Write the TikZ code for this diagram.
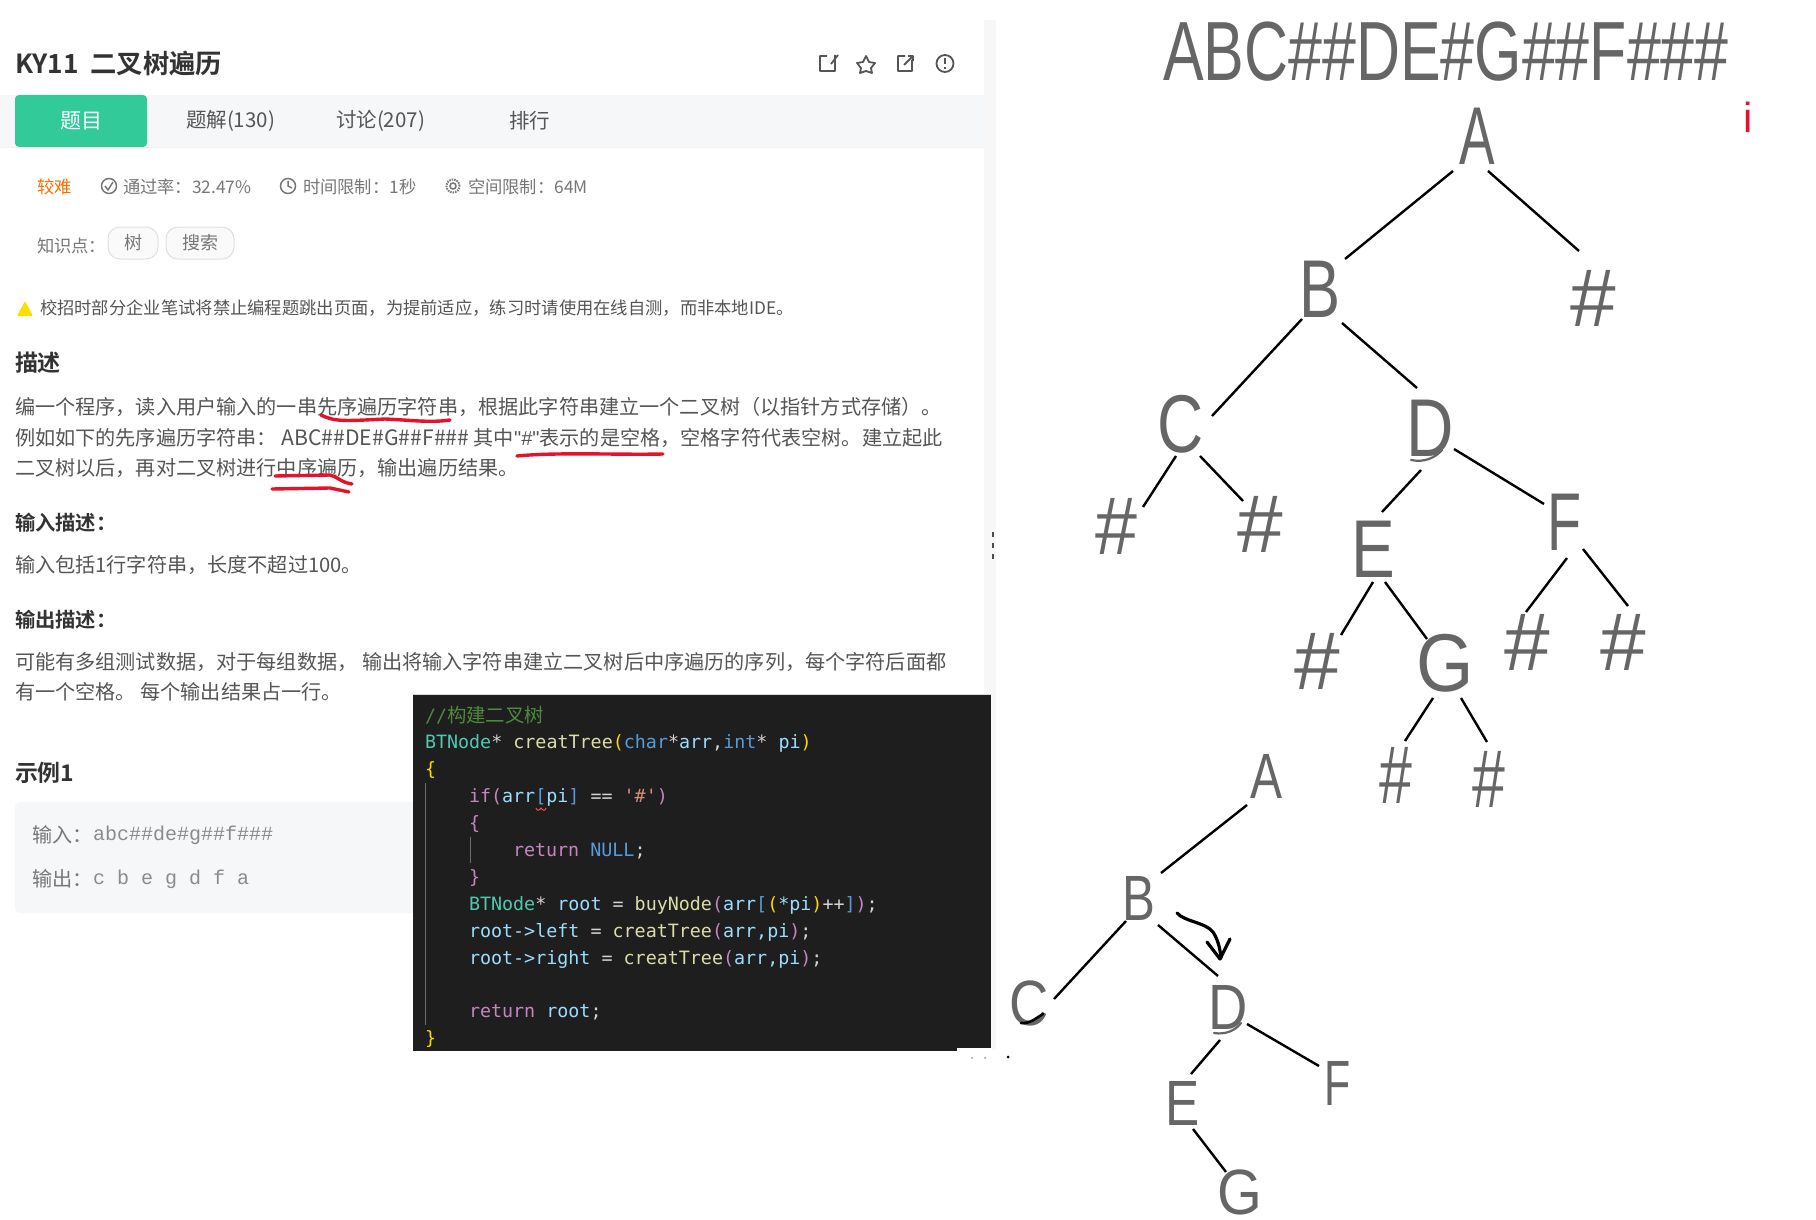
\documentclass[tikz,border=0pt]{standalone}
\usepackage{graphicx}
\usepackage{fontspec}
\usetikzlibrary{calc}
\setmainfont{Liberation Sans}
\setmonofont{DejaVu Sans Mono}
\newfontfamily\cjk{Noto Sans CJK SC}
\newfontfamily\cjkb{Noto Sans CJK SC Bold}
\newfontfamily\lsans{Liberation Sans}
\newfontfamily\lmono{Liberation Mono}
\definecolor{txtgray}{HTML}{555555}
\definecolor{hdark}{HTML}{333333}
\definecolor{lite}{HTML}{777777}
\definecolor{mint}{HTML}{32CA99}
\definecolor{tabbg}{HTML}{F6F7F9}
\definecolor{codebg}{HTML}{1E1E1E}
\definecolor{cgreen}{HTML}{4E8A3E}
\definecolor{cteal}{HTML}{4EC9B0}
\definecolor{cyell}{HTML}{DCDCAA}
\definecolor{cblue}{HTML}{569CD6}
\definecolor{clite}{HTML}{9CDCFE}
\definecolor{cpink}{HTML}{C586C0}
\definecolor{cgold}{HTML}{FFD700}
\definecolor{cstr}{HTML}{CE9178}
\definecolor{cwht}{HTML}{D4D4D4}
\definecolor{treeg}{HTML}{666666}
\definecolor{penred}{HTML}{E5122A}
\tikzset{
 t/.style={anchor=west,inner sep=0,outer sep=0,text=txtgray,font=\cjk\fontsize{20.15}{24}\selectfont},
 h/.style={anchor=west,inner sep=0,outer sep=0,text=hdark,font=\cjkb\fontsize{23}{27}\selectfont},
 m/.style={anchor=west,inner sep=0,outer sep=0,text=lite,font=\cjk\fontsize{17.3}{20}\selectfont},
 code/.style={anchor=west,inner sep=0,outer sep=0,font=\ttfamily\fontsize{18.35}{24}\selectfont},
 big/.style={inner sep=0,outer sep=0,text=treeg,font=\lsans\fontsize{82}{90}\selectfont},
 sml/.style={inner sep=0,outer sep=0,text=treeg,font=\lsans\fontsize{64}{70}\selectfont},
 edge/.style={draw=black,line width=2.4pt},
 pen/.style={draw=penred,line width=3.4pt,line cap=round,line join=round},
 ic/.style={draw=txtgray,line width=1.8pt,line join=round},
 ics/.style={draw=lite,line width=1.5pt},
 retouch/.style={draw=treeg,line width=2.2pt,line cap=round},
 pill/.style={draw=black!12,fill=black!2,rounded corners=12pt,line width=1pt,minimum height=32pt,inner sep=0,text=lite,font=\cjk\fontsize{18}{20}\selectfont},
}
\newcommand{\cc}[2]{\textcolor{#1}{#2}}
\newcommand{\nar}[2]{\scalebox{#1}[1]{#2}}
\begin{document}
\begin{tikzpicture}[x=1pt,y=-1pt]
\useasboundingbox (0,0) rectangle (1816,1220);
\fill[white] (0,0) rectangle (1816,1220);
% panel divider
\fill[black!3] (984,20) rectangle (996,1050);
\foreach \yy in {532,543,554}{\fill[black!70] (992,\yy) rectangle (994,\yy+5);}
% header
\node[h,font=\cjkb\fontsize{26.3}{30}\selectfont] (title) at (15,64) {KY11\ \ 二叉树遍历};
\draw[ic] (835,55) -- (835,71) -- (820,71) -- (820,56) -- (827,56) (831,64) -- (838,55);
\draw[ic] (866,56) -- (869,62) -- (875,63) -- (871,68) -- (872,73) -- (866,71) -- (860,73) -- (861,68) -- (857,63) -- (863,62) -- cycle;
\draw[ic] (912,60) -- (912,71) -- (898,71) -- (898,56) -- (905,56) (904,65) -- (913,56) (908,56) -- (913,56) -- (913,61);
\draw[ic] (945,63.5) circle (8.5pt);
\draw[ic] (945,58) -- (945,64) (945,67) -- (945,69);
% tabs
\fill[tabbg] (0,95) rectangle (984,147);
\draw[black!5,line width=1pt] (0,147.5) -- (984,147.5);
\node[fill=mint,rounded corners=4pt,minimum width=132pt,minimum height=52pt,inner sep=0,text=white,font=\cjk\fontsize{21}{25}\selectfont] (tab1) at (81,121) {题目};
\node[t,font=\cjk\fontsize{20.5}{24}\selectfont] (tab2) at (186,121) {题解(130)};
\node[t,font=\cjk\fontsize{20.5}{24}\selectfont] (tab3) at (336,121) {讨论(207)};
\node[t,font=\cjk\fontsize{20.5}{24}\selectfont] (tab4) at (509,121) {排行};
% meta
\node[m,text=orange!85!red] (hard) at (37,187) {较难};
\draw[ics] (109,186) circle (7.5pt); \draw[ics] (105,186) -- (108,190) -- (113,182);
\node[m] (rate) at (123,187) {通过率：32.47\%};
\draw[ics] (288,186) circle (7.5pt); \draw[ics] (288,181) -- (288,186) -- (292,188);
\node[m] (time) at (303,187) {时间限制：1秒};
\draw[ics,densely dotted,line width=2pt] (453,186) circle (6.5pt); \draw[ics] (453,186) circle (3pt);
\node[m] (space) at (468,187) {空间限制：64M};
\node[m] (kp) at (37,246) {知识点：};
\node[pill,minimum width=50pt] (p1) at (133,243) {树};
\node[pill,minimum width=68pt] (p2) at (200,243) {搜索};
% warning
\fill[yellow!80!orange,rounded corners=1pt] (17,316) -- (25,301) -- (33,316) -- cycle;
\node[m,font=\cjk\fontsize{17.3}{22}\selectfont,text=txtgray] (warn) at (40,308) {校招时部分企业笔试将禁止编程题跳出页面，为提前适应，练习时请使用在线自测，而非本地IDE。};
% description
\node[h] (d1) at (15,363) {描述};
\node[t] (l1) at (15,407) {编一个程序，读入用户输入的一串先序遍历字符串，根据此字符串建立一个二叉树（以指针方式存储）。};
\node[t] (l2) at (15,438) {例如如下的先序遍历字符串： {\fontsize{21.2}{24}\selectfont ABC\#\#DE\#G\#\#F\#\#\#} 其中{\lsans "\#"}表示的是空格，空格字符代表空树。建立起此};
\node[t] (l3) at (15,468) {二叉树以后，再对二叉树进行中序遍历，输出遍历结果。};
\node[h,font=\cjkb\fontsize{20.3}{24}\selectfont] (i1) at (15,523) {输入描述：};
\node[t] (i2) at (15,565) {输入包括1行字符串，长度不超过100。};
\node[h,font=\cjkb\fontsize{20.3}{24}\selectfont] (o1) at (15,620) {输出描述：};
\node[t] (o2) at (15,662) {可能有多组测试数据，对于每组数据， 输出将输入字符串建立二叉树后中序遍历的序列，每个字符后面都};
\node[t] (o3) at (15,692) {有一个空格。 每个输出结果占一行。};
% pen marks
\draw[pen] (321,415) .. controls (335,422) and (345,421) .. (385,419) .. controls (410,420) and (430,423) .. (450,420);
\draw[pen] (517,456) .. controls (558,452) and (618,455) .. (663,454);
\draw[pen] (275,476) -- (330,475) .. controls (340,478) and (340,482) .. (352,484);
\draw[pen] (272,489) -- (330,488) -- (349,492);
% example
\node[h,font=\cjkb\fontsize{22.9}{27}\selectfont] (ex) at (15,773) {示例1};
\fill[tabbg,rounded corners=5pt] (15,802) rectangle (420,913);
\node[t,text=lite] (ein) at (32,835) {输入：};
\node[anchor=west,inner sep=0,text=lite!85,font=\lmono\fontsize{20}{24}\selectfont] (einv) at (93,835) {abc\#\#de\#g\#\#f\#\#\#};
\node[t,text=lite] (eout) at (32,879) {输出：};
\node[anchor=west,inner sep=0,text=lite!85,font=\lmono\fontsize{20}{24}\selectfont] (eoutv) at (93,879) {c b e g d f a};
% code panel
\fill[codebg] (413,695) rectangle (991,1051);
\draw[black!15,line width=1pt] (413,694.5) -- (991,694.5);
\fill[white] (957,1048) rectangle (992,1052);
\fill[black!40] (972,1058) circle (1pt) (985,1058) circle (1pt);
\fill[black] (1008,1057) circle (1.5pt);
\draw[white!35!codebg,line width=1pt] (425,783) -- (425,1025);
\draw[white!35!codebg,line width=1pt] (470,837) -- (470,863);
\node[code,text=cgreen] (c0) at (425,715) {//{\cjk\fontsize{19.4}{24}\selectfont 构建二叉树}};
\node[code] (c1) at (425,743) {\cc{cteal}{BTNode}\cc{cwht}{*} \cc{cyell}{creatTree}\cc{cgold}{(}\cc{cblue}{char}\cc{cwht}{*}\cc{clite}{arr}\cc{cwht}{,}\cc{cblue}{int}\cc{cwht}{*} \cc{clite}{pi}\cc{cgold}{)}};
\node[code,text=cgold] (c2) at (425,770) {\{};
\node[code] (c3) at (469,797) {\cc{cpink}{if(}\cc{clite}{arr}\cc{cblue}{[}\cc{clite}{pi}\cc{cblue}{]} \cc{cwht}{==} \cc{cstr}{'\#'}\cc{cpink}{)}};
\draw[red!70,line width=1pt] (536,808) .. controls (537,811) and (539,811) .. (541,808) .. controls (543,811) and (545,811) .. (546,808);
\node[code,text=cpink] (c4) at (469,824) {\{};
\node[code] (c5) at (513,851) {\cc{cpink}{return} \cc{cblue}{NULL}\cc{cwht}{;}};
\node[code,text=cpink] (c6) at (469,878) {\}};
\node[code] (c7) at (469,905) {\cc{cteal}{BTNode}\cc{cwht}{*} \cc{clite}{root} \cc{cwht}{=} \cc{cyell}{buyNode}\cc{cpink}{(}\cc{clite}{arr}\cc{cblue}{[}\cc{cgold}{(}\cc{clite}{*pi}\cc{cgold}{)}\cc{cwht}{++}\cc{cblue}{]}\cc{cpink}{)}\cc{cwht}{;}};
\node[code] (c8) at (469,932) {\cc{clite}{root->left} \cc{cwht}{=} \cc{cyell}{creatTree}\cc{cpink}{(}\cc{clite}{arr,pi}\cc{cpink}{)}\cc{cwht}{;}};
\node[code] (c9) at (469,959) {\cc{clite}{root->right} \cc{cwht}{=} \cc{cyell}{creatTree}\cc{cpink}{(}\cc{clite}{arr,pi}\cc{cpink}{)}\cc{cwht}{;}};
\node[code] (c10) at (469,1012) {\cc{cpink}{return} \cc{clite}{root}\cc{cwht}{;}};
\node[code,text=cgold] (c11) at (425,1039) {\}};
% big heading
\node[inner sep=0,text=treeg,font=\lsans\fontsize{84}{90}\selectfont] (seq) at (1446,52) {\nar{.725}{ABC\#\#DE\#G\#\#F\#\#\#}};
\node[inner sep=0,text=penred,font=\lsans\fontsize{42}{46}\selectfont] (idot) at (1748,117) {i};
% upper tree
\node[big] (A) at (1477,136) {\nar{.65}{A}};
\node[big] (B) at (1320,289) {\nar{.75}{B}};
\node[big] (H1) at (1593,298) {\#};
\node[big] (C) at (1181,424) {\nar{.78}{C}};
\node[big] (D) at (1430,428) {\nar{.8}{D}};
\node[big] (H2) at (1116,526) {\nar{.92}{\#}};
\node[big] (H3) at (1260,524) {\#};
\node[big] (E) at (1373,549) {\nar{.8}{E}};
\node[big] (F) at (1565,522) {\nar{.68}{F}};
\node[big] (H4) at (1317,661) {\#};
\node[big] (G) at (1445,663) {\nar{.9}{G}};
\node[big] (H5) at (1527,642) {\#};
\node[big] (H6) at (1623,642) {\#};
\node[big] (H7) at (1396,775) {\nar{.72}{\#}};
\node[big] (H8) at (1489,779) {\nar{.72}{\#}};
\draw[edge] ($(A)+(-24,35)$) -- ($(B)+(25,-30)$);
\draw[edge] ($(A)+(11,35)$) -- ($(H1)+(-14,-47)$);
\draw[edge] ($(B)+(-18,30)$) -- ($(C)+(31,-8)$);
\draw[edge] ($(B)+(22,34)$) -- ($(D)+(-13,-40)$);
\draw[edge] ($(C)+(-5,32)$) -- ($(H2)+(27,-19)$);
\draw[edge] ($(C)+(19,32)$) -- ($(H3)+(-17,-23)$);
\draw[edge] ($(D)+(-9,42)$) -- ($(E)+(9,-37)$);
\draw[edge] ($(D)+(24,21)$) -- ($(F)+(-21,-18)$);
\draw[edge] ($(E)+(0,33)$) -- ($(H4)+(24,-26)$);
\draw[edge] ($(E)+(12,33)$) -- ($(G)+(-18,-24)$);
\draw[edge] ($(F)+(2,36)$) -- ($(H5)+(-1,-30)$);
\draw[edge] ($(F)+(18,27)$) -- ($(H6)+(5,-36)$);
\draw[edge] ($(G)+(-12,35)$) -- ($(H7)+(9,-34)$);
\draw[edge] ($(G)+(16,35)$) -- ($(H8)+(-2,-37)$);
\draw[retouch] (1411,460) .. controls (1425,463) and (1436,457) .. (1442,450);
% lower tree
\node[sml] (a) at (1266,776) {\nar{.75}{A}};
\node[sml] (b) at (1139,898) {\nar{.77}{B}};
\node[sml] (c) at (1029,1003) {\nar{.85}{C}};
\node[sml] (d) at (1228,1007) {\nar{.85}{D}};
\node[sml] (e) at (1183,1103) {\nar{.8}{E}};
\node[sml] (f) at (1338,1083) {\nar{.67}{F}};
\node[sml] (g) at (1240,1192) {\nar{.9}{G}};
\draw[edge] ($(a)+(-19,29)$) -- ($(b)+(22,-25)$);
\draw[edge] ($(b)+(-13,23)$) -- ($(c)+(25,-4)$);
\draw[edge] ($(b)+(19,27)$) -- ($(d)+(-10,-31)$);
\draw[edge] ($(d)+(-8,33)$) -- ($(e)+(8,-29)$);
\draw[edge] ($(d)+(19,17)$) -- ($(f)+(-19,-17)$);
\draw[edge] ($(e)+(10,26)$) -- ($(g)+(-14,-20)$);
\draw[retouch] (1214,1033) .. controls (1226,1035) and (1236,1030) .. (1241,1023);
\draw[black,line width=2.6pt,line cap=round] (1021,1023) .. controls (1030,1024) and (1036,1018) .. (1043,1014);
\draw[draw=black,line width=3.2pt,line cap=round,line join=round] (1177,913) .. controls (1185,922) and (1205,922) .. (1213,932) .. controls (1218,940) and (1220,948) .. (1221,958);
\draw[draw=black,line width=3.2pt,line cap=round,line join=round] (1207,942) -- (1220,959) -- (1230,939);
\end{tikzpicture}
\end{document}
